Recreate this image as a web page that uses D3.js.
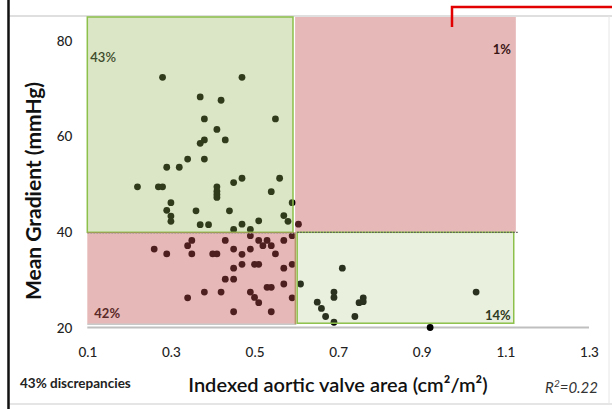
<!DOCTYPE html>
<html><head><meta charset="utf-8">
<script src="https://cdn.jsdelivr.net/npm/d3@7"></script>
<style>body{margin:0;background:#fff}svg{display:block}</style>
</head><body>
<svg id="c" width="612" height="409"></svg>
<script>
// ---- data ----
const iavaValues = [0.28,0.47,0.37,0.42,0.38,0.55,0.41,0.38,0.37,0.43,0.34,0.38,0.29,0.32,0.47,0.56,0.45,0.22,0.27,0.28,0.41,0.41,0.41,0.41,0.54,0.30,0.59,0.29,0.30,0.30,0.36,0.44,0.37,0.39,0.47,0.45,0.49,0.51,0.57,0.58,0.605,
0.35,0.34,0.26,0.29,0.35,0.40,0.41,0.43,0.45,0.47,0.49,0.49,0.51,0.52,0.53,0.54,0.55,0.57,0.59,0.47,0.50,0.51,0.45,0.57,0.59,0.43,0.45,0.57,0.53,0.54,0.61,0.38,0.42,0.49,0.50,0.51,0.34,0.59,0.45,0.54,
0.71,0.69,0.69,0.65,0.66,0.67,0.69,0.74,0.76,0.76,0.75,1.03,0.92];
const gradientValues = [72.4,72.4,68.3,67.6,63.7,63.7,61.5,59.3,58.6,59.3,55.3,55.3,53.6,53.6,51.3,51.3,50.4,49.5,49.5,49.5,49.5,48.6,47.9,47.3,48.5,46.2,46.2,44.6,43.4,42.3,44.5,44.5,41.6,41.6,41.7,40.6,40.6,42.4,43.5,42.3,41.7,
38.3,37.2,36.5,35.5,35.5,35.5,35.5,38.3,36.5,35.4,36.5,39.3,38.3,37.2,38.3,37.2,35.5,38.3,39.3,33.3,33.3,33.3,32.5,32.5,33.3,30.2,30.2,29.2,28.5,28.5,29.2,27.5,27.5,27.5,26.4,25.3,26.3,26.3,23.4,23.4,
32.5,27.5,26.4,25.4,24.1,22.4,21.2,22.4,26.3,25.5,25.3,27.5,20.1];
const xTicks = [0.1,0.3,0.5,0.7,0.9,1.1,1.3];
const yTicks = [20,40,60,80];
const areaThreshold = 0.6;
const gradientThreshold = 40;
const regionLabels = ["43%","1%","42%","14%"];
const xTitle = "Indexed aortic valve area (cm²/m²)";
const yTitle = "Mean Gradient (mmHg)";
const noteText = "43% discrepancies";

// ---- drawing ----
const svg = d3.select("#c");
const x = d3.scaleLinear().domain([0.1,1.3]).range([87.3,589]);
const y = d3.scaleLinear().domain([20,85]).range([328,17]);
const FONT = "Lato, 'Open Sans', sans-serif";

// frame
svg.append("line").attr("x1",8).attr("x2",612).attr("y1",16).attr("y2",16).attr("stroke","#d4d4d4").attr("stroke-width",1.5);
svg.append("line").attr("x1",8).attr("x2",612).attr("y1",404).attr("y2",404).attr("stroke","#dcdcdc").attr("stroke-width",1.5);
svg.append("line").attr("x1",609).attr("x2",609).attr("y1",16).attr("y2",404).attr("stroke","#e6e6e6").attr("stroke-width",1);
svg.append("line").attr("x1",8.5).attr("x2",8.5).attr("y1",0).attr("y2",409).attr("stroke","#111").attr("stroke-width",2.5);

// baseline
svg.append("line").attr("x1",x(0.1)).attr("x2",x(1.3)).attr("y1",y(20)-0.5).attr("y2",y(20)-0.5).attr("stroke","#bfbfbf").attr("stroke-width",2);

// points
svg.append("g").selectAll("circle").data(iavaValues.map((v,i)=>[v,gradientValues[i]])).join("circle")
  .attr("cx",d=>x(d[0])).attr("cy",d=>y(d[1])).attr("r",3.4).attr("fill","#000");

// overlay regions (semi-transparent, over points)
const yTop = y.domain()[1];
const g = svg.append("g");
// top-left green
g.append("rect").attr("x",x(0.1)).attr("y",y(yTop)).attr("width",x(0.592)-x(0.1)).attr("height",y(gradientThreshold)-y(yTop))
  .attr("fill","#8fb34f").attr("fill-opacity",0.33).attr("stroke","#8cc04a").attr("stroke-width",1.5);
// top-right red
g.append("rect").attr("x",x(0.597)).attr("y",y(yTop)).attr("width",x(1.125)-x(0.597)).attr("height",y(gradientThreshold)-y(yTop))
  .attr("fill","#c0504d").attr("fill-opacity",0.4);
// bottom-left red
g.append("rect").attr("x",x(0.1)).attr("y",y(gradientThreshold)).attr("width",x(areaThreshold)-x(0.1)).attr("height",y(20.8)-y(gradientThreshold))
  .attr("fill","#c0504d").attr("fill-opacity",0.4);
g.append("line").attr("x1",x(0.1)).attr("x2",x(areaThreshold)).attr("y1",y(20.8)).attr("y2",y(20.8)).attr("stroke","#c9c9c9").attr("stroke-width",1.5);
g.append("line").attr("x1",x(areaThreshold)-1).attr("x2",x(areaThreshold)-1).attr("y1",y(gradientThreshold)).attr("y2",y(20.8)).attr("stroke","#b8966a").attr("stroke-width",1.5);
g.append("line").attr("x1",x(0.1)).attr("x2",x(areaThreshold)).attr("y1",y(gradientThreshold)+1).attr("y2",y(gradientThreshold)+1).attr("stroke","#b09a9a").attr("stroke-width",1).attr("stroke-dasharray","2,1");
// bottom-right green
g.append("rect").attr("x",x(0.602)).attr("y",y(gradientThreshold)).attr("width",x(1.12)-x(0.602)).attr("height",y(21.0)-y(gradientThreshold))
  .attr("fill","#a9c47a").attr("fill-opacity",0.25).attr("stroke","#8cc04a").attr("stroke-width",1.5);
// dotted threshold line
g.append("line").attr("x1",x(0.602)).attr("x2",x(1.13)).attr("y1",y(gradientThreshold)).attr("y2",y(gradientThreshold))
  .attr("stroke","#555").attr("stroke-width",1.2).attr("stroke-dasharray","1.5,1.5");

// region labels
const lab = (t,xx,yy,anchor,w,c)=>svg.append("text").text(t).attr("x",xx).attr("y",yy).attr("text-anchor",anchor)
  .attr("font-family",FONT).attr("font-size",13).attr("font-weight",w).attr("fill",c);
lab(regionLabels[0], x(0.1)+3, 62, "start", "600", "#3d4a2a");
lab(regionLabels[1], x(1.125)-5, 54, "end", "bold", "#3a1616");
lab(regionLabels[2], x(0.1)+7, 318, "start", "bold", "#5a2a28");
lab(regionLabels[3], x(1.12)-3, 320, "end", "bold", "#2e3a22");

// axes (labels only)
const xa = svg.append("g").attr("transform",`translate(0,${y(20)})`)
  .call(d3.axisBottom(x).tickValues(xTicks).tickFormat(d3.format(".1f")).tickSize(0).tickPadding(19));
xa.select(".domain").remove();
xa.selectAll("text").attr("font-family",FONT).attr("font-size",13.5).attr("font-weight","500").attr("fill","#222");
const ya = svg.append("g").attr("transform",`translate(${x(0.1)},0)`)
  .call(d3.axisLeft(y).tickValues(yTicks).tickSize(0).tickPadding(15));
ya.select(".domain").remove();
ya.selectAll("text").attr("font-family",FONT).attr("font-size",13.5).attr("font-weight","500").attr("fill","#222");

// titles
svg.append("text").text(yTitle).attr("transform","translate(41,191) rotate(-90)").attr("text-anchor","middle")
  .attr("font-family",FONT).attr("font-size",21).attr("font-weight","bold").attr("fill","#111");
svg.append("text").text(xTitle).attr("x",338).attr("y",392).attr("text-anchor","middle")
  .attr("font-family",FONT).attr("font-size",20).attr("font-weight","600").attr("fill","#111");
svg.append("text").text(noteText).attr("x",20).attr("y",388)
  .attr("font-family",FONT).attr("font-size",13.5).attr("font-weight","bold").attr("fill","#222");
const r2 = svg.append("text").attr("x",598).attr("y",393).attr("text-anchor","end")
  .attr("font-family",FONT).attr("font-size",15).attr("font-style","italic").attr("fill","#333");
r2.append("tspan").text("R");
r2.append("tspan").text("2").attr("font-size",10).attr("dy",-6);
r2.append("tspan").text("=0.22").attr("dy",6);

// red connector line
svg.append("path").attr("d",`M452,27 V7 H612`).attr("fill","none").attr("stroke","#e30000").attr("stroke-width",2.5);
</script>
</body></html>
